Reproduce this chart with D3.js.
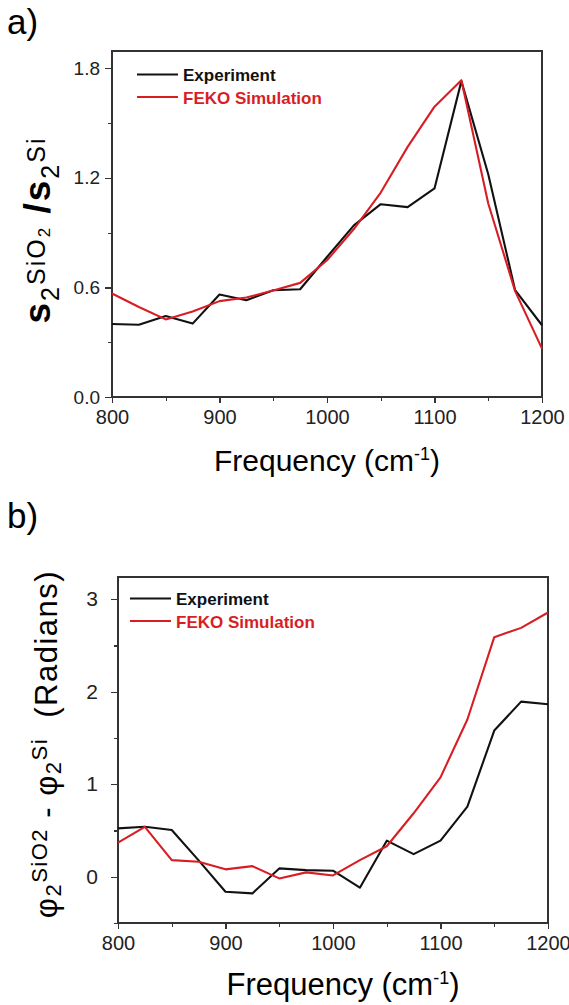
<!DOCTYPE html>
<html>
<head>
<meta charset="utf-8">
<title>s2 amplitude and phase vs frequency</title>
<script src="https://cdn.jsdelivr.net/npm/d3@7"></script>
<style>
  html, body { margin: 0; background: #fff; }
  svg { display: block; font-family: Arial, "Liberation Sans", sans-serif; }
  .axis path, .axis line { stroke: #333; stroke-width: 1.3; shape-rendering: crispEdges; }
  .axis text { fill: #222; }
  .frame { fill: none; stroke: #333; stroke-width: 1.3; shape-rendering: crispEdges; }
  .line { fill: none; stroke-width: 2.1; stroke-linejoin: round; }
</style>
</head>
<body>
<svg width="569" height="1005"></svg>
<script>
// frequency in cm-1
var freq = [800, 825, 850, 875, 900, 925, 950, 975, 1000, 1025, 1050, 1075, 1100, 1125, 1150, 1175, 1200];

// a) amplitude ratio
var ampExp = [0.40, 0.396, 0.444, 0.402, 0.561, 0.53, 0.585, 0.59, 0.767, 0.94, 1.056, 1.04, 1.142, 1.73, 1.22, 0.585, 0.393];
var ampSim = [0.567, 0.493, 0.425, 0.468, 0.525, 0.545, 0.583, 0.625, 0.749, 0.92, 1.12, 1.37, 1.59, 1.735, 1.06, 0.58, 0.265];

// b) phase difference (radians)
var phaseExp = [0.523, 0.54, 0.505, 0.177, -0.162, -0.18, 0.09, 0.072, 0.065, -0.118, 0.39, 0.245, 0.39, 0.757, 1.58, 1.893, 1.865];
var phaseSim = [0.368, 0.54, 0.18, 0.162, 0.08, 0.115, -0.018, 0.047, 0.014, 0.18, 0.33, 0.686, 1.074, 1.70, 2.59, 2.69, 2.856];

var seriesNames = ["Experiment", "FEKO Simulation"];
var seriesColors = ["#111111", "#d81e24"];

var xMajor = [800, 900, 1000, 1100, 1200];
var xMinor = [850, 950, 1050, 1150];
var ampMajor = [0, 0.6, 1.2, 1.8];
var ampMinor = [0.3, 0.9, 1.5];
var phaseMajor = [0, 1, 2, 3];
var phaseMinor = [-0.5, 0.5, 1.5, 2.5];

var svg = d3.select("svg");

function drawPanel(p) {
  var g = svg.append("g");
  var x = d3.scaleLinear().domain([800, 1200]).range([p.left, p.right]);
  var y = d3.scaleLinear().domain(p.yDomain).range([p.bottom, p.top]);

  // frame (top and right sides)
  g.append("rect").attr("class", "frame")
    .attr("x", p.left).attr("y", p.top)
    .attr("width", p.right - p.left).attr("height", p.bottom - p.top);

  // minor ticks first, then labelled ones
  g.append("g").attr("class", "axis")
    .attr("transform", "translate(0," + p.bottom + ")")
    .call(d3.axisBottom(x).tickValues(xMinor).tickSize(4).tickFormat(""))
    .select(".domain").remove();
  g.append("g").attr("class", "axis")
    .attr("transform", "translate(" + p.left + ",0)")
    .call(d3.axisLeft(y).tickValues(p.yMinor).tickSize(4).tickFormat(""))
    .select(".domain").remove();

  g.append("g").attr("class", "axis")
    .attr("transform", "translate(0," + p.bottom + ")")
    .call(d3.axisBottom(x).tickValues(xMajor).tickSize(6).tickPadding(7).tickSizeOuter(0).tickFormat(d3.format("d")))
    .selectAll("text").style("font-size", "20px");
  g.append("g").attr("class", "axis")
    .attr("transform", "translate(" + p.left + ",0)")
    .call(d3.axisLeft(y).tickValues(p.yMajor).tickSize(7).tickPadding(p.yPad).tickSizeOuter(0).tickFormat(p.fmt))
    .selectAll("text").style("font-size", p.yFont);

  var line = d3.line()
    .x(function(d) { return x(d[0]); })
    .y(function(d) { return y(d[1]); });

  p.series.forEach(function(vals, i) {
    g.append("path").attr("class", "line")
      .attr("d", line(d3.zip(freq, vals)))
      .attr("stroke", seriesColors[i]);
  });

  // legend
  seriesNames.forEach(function(name, i) {
    var ly = p.legY + i * 22.5;
    g.append("line")
      .attr("x1", p.legX).attr("x2", p.legX + 41)
      .attr("y1", ly).attr("y2", ly)
      .attr("stroke", seriesColors[i]).attr("stroke-width", 2);
    g.append("text")
      .attr("x", p.legX + 46).attr("y", ly + 6.5)
      .attr("fill", seriesColors[i])
      .style("font-size", "17px").style("font-weight", "bold")
      .text(name);
  });

  // x title
  var xt = g.append("text")
    .attr("x", (p.left + p.right) / 2 + p.xTitleShift)
    .attr("y", p.xTitleY)
    .attr("text-anchor", "middle")
    .style("font-size", p.xTitleFont + "px");
  xt.append("tspan").text("Frequency (cm");
  xt.append("tspan").attr("dy", -11).style("font-size", "18px").text("-1");
  xt.append("tspan").attr("dy", 11).text(")");

  // panel letter
  g.append("text").attr("x", 7).attr("y", p.letterY)
    .style("font-size", "35px").text(p.letter);

  return g;
}

drawPanel({
  left: 112, right: 542, top: 51, bottom: 397,
  yDomain: [0, 1.895], yMajor: ampMajor, yMinor: ampMinor,
  fmt: d3.format(".1f"), yFont: "19px", yPad: 5,
  series: [ampExp, ampSim],
  legX: 137, legY: 74.5,
  xTitleY: 471, xTitleShift: 0, xTitleFont: 30, letter: "a)", letterY: 34
});

drawPanel({
  left: 118, right: 548, top: 577, bottom: 923,
  yDomain: [-0.5, 3.24], yMajor: phaseMajor, yMinor: phaseMinor,
  fmt: d3.format("d"), yFont: "21px", yPad: 13,
  series: [phaseExp, phaseSim],
  legX: 130, legY: 598.5,
  xTitleY: 995, xTitleShift: 10, xTitleFont: 31, letter: "b)", letterY: 528
});

// y title a): s2^SiO2 / s2^Si
var ya = svg.append("text")
  .attr("transform", "translate(50,230) rotate(-90)")
  .attr("text-anchor", "middle")
  .style("font-size", "37px")
  .style("letter-spacing", "2px");
ya.append("tspan").style("font-weight", "bold").text("s");
ya.append("tspan").attr("dy", 9).style("font-size", "25px").text("2");
ya.append("tspan").attr("dy", -14).style("font-size", "25px").text("SiO");
ya.append("tspan").attr("dy", 5).style("font-size", "17px").text("2");
ya.append("tspan").attr("dy", 0).style("font-weight", "bold").text(" /");
ya.append("tspan").style("font-weight", "bold").text("s");
ya.append("tspan").attr("dy", 9).style("font-size", "25px").text("2");
ya.append("tspan").attr("dy", -14).style("font-size", "25px").text("Si");

// y title b): phi2^SiO2 - phi2^Si (Radians)
var yb = svg.append("text")
  .attr("transform", "translate(57,744) rotate(-90)")
  .attr("text-anchor", "middle")
  .style("font-size", "31px")
  .style("letter-spacing", "1.5px");
yb.append("tspan").text("\u03c6");
yb.append("tspan").attr("dy", 4).style("font-size", "22px").text("2");
yb.append("tspan").attr("dy", -14).style("font-size", "22px").text("SiO2");
yb.append("tspan").attr("dy", 10).text(" - \u03c6");
yb.append("tspan").attr("dy", 4).style("font-size", "22px").text("2");
yb.append("tspan").attr("dy", -14).style("font-size", "22px").text("Si");
yb.append("tspan").attr("dy", 10).text("\u00a0 (Radians)");
</script>
</body>
</html>
